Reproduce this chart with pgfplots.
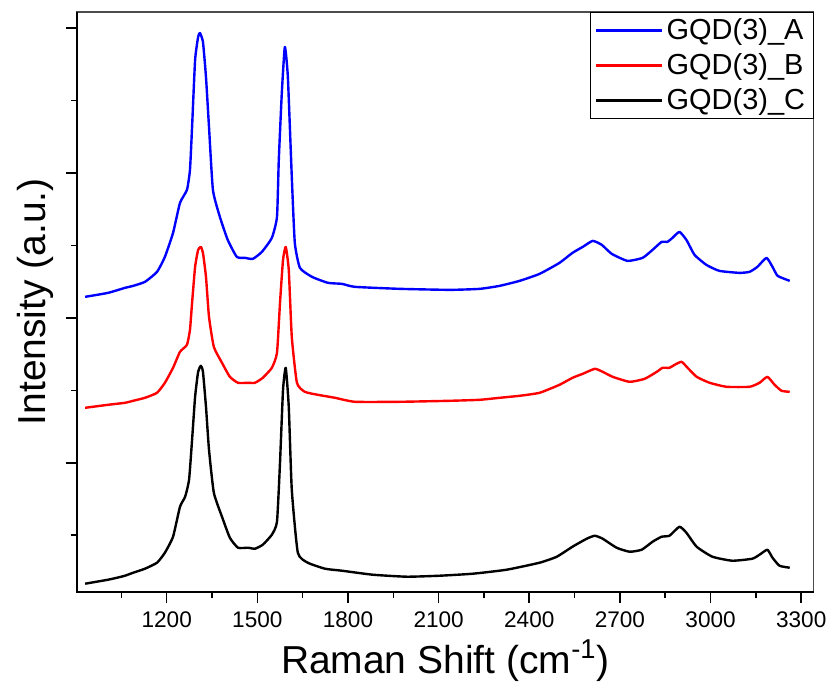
\documentclass[border=0pt]{standalone}
\usepackage{pgfplots}
\pgfplotsset{compat=1.18}
\usepackage{fontspec}
\setmainfont{Liberation Sans}
\usetikzlibrary{calc}
\begin{document}
\begin{tikzpicture}
\begin{axis}[
  name=ax,
  scale only axis,
  width=368.5pt, height=290pt,
  xmin=903, xmax=3341, ymin=0, ymax=580,
  axis line style={black!70, line width=0.6pt},
  xtick={1200,1500,...,3300},
  minor xtick={1050,1350,...,3150},
  ytick={129,274,419,564},
  minor ytick={56.5,201.5,346.5,491.5},
  yticklabels={},
  xtick pos=bottom, ytick pos=left,
  tick align=outside,
  major tick length=5.5pt, minor tick length=3pt,
  every tick/.style={black, line width=0.8pt},
  /pgf/number format/assume math mode=true,
  /pgf/number format/1000 sep={},
  xticklabel style={font=\fontsize{11.3}{13}\selectfont, yshift=-1pt},
  xlabel={Raman Shift (cm\textsuperscript{-1})},
  ylabel={Intensity (a.u.)},
  xlabel style={font=\fontsize{19.5}{22}\selectfont, yshift=1pt},
  ylabel style={font=\fontsize{19.5}{22}\selectfont, yshift=-4pt},
  legend style={at={(1,1)}, anchor=north east, draw=black, line width=0.5pt,
    font=\fontsize{14.5}{17}\selectfont, inner xsep=2pt, inner ysep=1pt, row sep=1.5pt,
    legend cell align=left},
  legend image code/.code={\draw[#1, line width=1.1pt] (0cm,0cm) -- (1.15cm,0cm);},
  clip=false,
  every axis plot/.append style={smooth, tension=0.3, line join=round},
]
\addplot[blue, line width=1.2pt] coordinates {
(930,295) (1006,299) (1062,304) (1089,306) (1128,310) (1168,320) (1194,335)
(1221,359) (1244,389) (1267,402) (1277,422) (1284,465) (1294,532) (1304,555)
(1310,559) (1320,550) (1330,515) (1340,465) (1353,402) (1376,375) (1402,352)
(1432,335) (1459,334) (1485,333) (1515,340) (1548,354) (1565,375) (1571,432)
(1581,499) (1591,545) (1601,515) (1614,415) (1624,349) (1641,324) (1681,315)
(1734,309) (1780,308) (1823,305) (1972,303) (2137,302) (2236,303) (2302,306)
(2368,311) (2434,318) (2500,329) (2543,339) (2577,345) (2610,351) (2640,347)
(2673,338) (2725,331) (2775,334) (2808,342) (2838,350) (2857,350) (2874,354)
(2897,360) (2920,352) (2947,337) (2986,327) (3029,321) (3095,319) (3129,320)
(3155,325) (3185,334) (3205,325) (3222,316) (3262,311)
};
\addlegendentry{GQD(3)\_A}
\addplot[red, line width=1.2pt] coordinates {
(930,184) (1006,187) (1062,189) (1089,191) (1128,194) (1168,199) (1194,209)
(1221,224) (1244,240) (1267,247) (1277,262) (1284,289) (1294,325) (1304,342)
(1313,345) (1320,339) (1330,315) (1340,275) (1356,245) (1383,229) (1409,215)
(1436,209) (1469,209) (1492,209) (1518,214) (1548,224) (1565,239) (1575,289)
(1585,332) (1594,345) (1604,322) (1614,255) (1631,209) (1657,200) (1700,197)
(1757,194) (1823,190) (1972,190) (2137,191) (2236,192) (2302,194) (2368,196)
(2434,199) (2500,207) (2543,214) (2577,218) (2617,223) (2643,220) (2676,215)
(2732,210) (2782,213) (2822,220) (2841,224) (2864,224) (2881,227) (2904,230)
(2924,224) (2954,215) (2997,209) (3053,205) (3129,205) (3162,209) (3188,215)
(3212,207) (3235,201) (3262,200)
};
\addlegendentry{GQD(3)\_B}
\addplot[black, line width=1.2pt] coordinates {
(930,8) (1006,12) (1036,14) (1062,16) (1089,19) (1128,23) (1168,29) (1194,39)
(1221,55) (1244,85) (1261,95) (1274,112) (1284,152) (1294,195) (1304,220)
(1313,226) (1320,220) (1330,185) (1340,142) (1356,99) (1383,75) (1409,54)
(1436,44) (1469,44) (1492,43) (1518,47) (1548,57) (1565,70) (1575,129)
(1585,202) (1594,224) (1604,185) (1614,102) (1634,39) (1667,29) (1724,23)
(1780,21) (1882,17) (1995,15) (2104,16) (2213,18) (2325,22) (2434,29)
(2491,35) (2543,45) (2590,53) (2617,56) (2643,53) (2689,44) (2732,40)
(2772,42) (2808,50) (2838,55) (2864,56) (2897,65) (2920,59) (2954,45)
(3006,35) (3072,31) (3138,33) (3162,37) (3188,42) (3205,34) (3228,26) (3262,24)
};
\addlegendentry{GQD(3)\_C}
\draw[black, line width=1pt] (rel axis cs:0,1) -- (rel axis cs:0,0) -- (rel axis cs:1,0);
\end{axis}
\path ($(ax.south west)+(-38.5pt,-47pt)$) rectangle ($(ax.north east)+(9.5pt,6pt)$);
\end{tikzpicture}
\end{document}
